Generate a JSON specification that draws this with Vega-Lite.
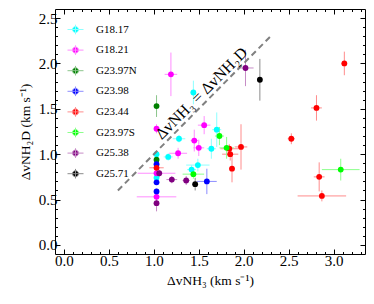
{
  "$schema": "https://vega.github.io/schema/vega-lite/v6.json",
  "width": 310,
  "height": 245,
  "padding": {"top": 8, "left": 18, "right": 2, "bottom": 5},
  "config": {
    "font": "Liberation Serif",
    "view": {"stroke": "black", "strokeWidth": 1},
    "axis": {
      "grid": false,
      "domain": false,
      "tickColor": "black",
      "tickWidth": 1,
      "labelColor": "black",
      "titleColor": "black",
      "labelFont": "Liberation Serif",
      "titleFont": "Liberation Serif",
      "labelFontSize": 15,
      "titleFontSize": 13.5,
      "titleFontWeight": "normal",
      "labelOverlap": false,
      "labelFlush": false
    }
  },
  "datasets": {
    "pts": [
      {"source": "G18.17", "x": 1.44, "y": 1.68, "xe": 0.03, "ye": 0.13},
      {"source": "G18.17", "x": 1.28, "y": 1.17, "xe": 0.07, "ye": 0.04},
      {"source": "G18.17", "x": 1.70, "y": 1.27, "xe": 0.05, "ye": 0.19},
      {"source": "G18.17", "x": 1.64, "y": 1.06, "xe": 0.05, "ye": 0.11},
      {"source": "G18.17", "x": 1.16, "y": 0.97, "xe": 0.05, "ye": 0.04},
      {"source": "G18.17", "x": 1.03, "y": 1.00, "xe": 0.03, "ye": 0.03},
      {"source": "G18.17", "x": 1.03, "y": 0.74, "xe": 0.03, "ye": 0.03},
      {"source": "G18.17", "x": 1.49, "y": 0.88, "xe": 0.13, "ye": 0.07},
      {"source": "G18.17", "x": 1.42, "y": 0.83, "xe": 0.05, "ye": 0.05},
      {"source": "G18.21", "x": 1.19, "y": 1.88, "xe": 0.07, "ye": 0.24},
      {"source": "G18.21", "x": 1.03, "y": 1.28, "xe": 0.03, "ye": 0.05},
      {"source": "G18.21", "x": 1.56, "y": 1.32, "xe": 0.07, "ye": 0.10},
      {"source": "G18.21", "x": 1.45, "y": 1.15, "xe": 0.04, "ye": 0.12},
      {"source": "G18.21", "x": 1.50, "y": 1.07, "xe": 0.06, "ye": 0.09},
      {"source": "G18.21", "x": 1.27, "y": 1.01, "xe": 0.10, "ye": 0.06},
      {"source": "G18.21", "x": 1.03, "y": 0.79, "xe": 0.21, "ye": 0.04},
      {"source": "G18.21", "x": 1.03, "y": 0.53, "xe": 0.22, "ye": 0.05},
      {"source": "G23.97N", "x": 1.03, "y": 1.53, "xe": 0.02, "ye": 0.12},
      {"source": "G23.97N", "x": 1.03, "y": 0.94, "xe": 0.02, "ye": 0.03},
      {"source": "G23.98", "x": 1.03, "y": 0.89, "xe": 0.02, "ye": 0.03},
      {"source": "G23.98", "x": 1.03, "y": 0.69, "xe": 0.02, "ye": 0.03},
      {"source": "G23.98", "x": 1.03, "y": 0.59, "xe": 0.02, "ye": 0.03},
      {"source": "G23.98", "x": 1.59, "y": 0.70, "xe": 0.11, "ye": 0.14},
      {"source": "G23.44", "x": 1.03, "y": 0.85, "xe": 0.08, "ye": 0.03},
      {"source": "G23.44", "x": 1.84, "y": 1.06, "xe": 0.10, "ye": 0.05},
      {"source": "G23.44", "x": 1.97, "y": 1.08, "xe": 0.07, "ye": 0.25},
      {"source": "G23.44", "x": 1.85, "y": 1.00, "xe": 0.09, "ye": 0.07},
      {"source": "G23.44", "x": 1.87, "y": 0.84, "xe": 0.03, "ye": 0.15},
      {"source": "G23.44", "x": 2.53, "y": 1.17, "xe": 0.04, "ye": 0.06},
      {"source": "G23.44", "x": 2.81, "y": 1.51, "xe": 0.06, "ye": 0.14},
      {"source": "G23.44", "x": 3.12, "y": 2.00, "xe": 0.03, "ye": 0.13},
      {"source": "G23.44", "x": 2.84, "y": 0.75, "xe": 0.06, "ye": 0.16},
      {"source": "G23.44", "x": 2.87, "y": 0.54, "xe": 0.27, "ye": 0.06},
      {"source": "G23.97S", "x": 1.73, "y": 1.20, "xe": 0.05, "ye": 0.10},
      {"source": "G23.97S", "x": 1.81, "y": 1.07, "xe": 0.08, "ye": 0.12},
      {"source": "G23.97S", "x": 1.44, "y": 0.78, "xe": 0.12, "ye": 0.05},
      {"source": "G23.97S", "x": 3.08, "y": 0.83, "xe": 0.21, "ye": 0.12},
      {"source": "G25.38", "x": 2.02, "y": 1.95, "xe": 0.09, "ye": 0.20},
      {"source": "G25.38", "x": 1.06, "y": 0.79, "xe": 0.03, "ye": 0.04},
      {"source": "G25.38", "x": 1.20, "y": 0.72, "xe": 0.06, "ye": 0.04},
      {"source": "G25.38", "x": 1.36, "y": 0.71, "xe": 0.04, "ye": 0.05},
      {"source": "G25.38", "x": 1.03, "y": 0.46, "xe": 0.02, "ye": 0.09},
      {"source": "G25.71", "x": 2.18, "y": 1.82, "xe": 0.02, "ye": 0.23},
      {"source": "G25.71", "x": 1.46, "y": 0.67, "xe": 0.03, "ye": 0.07}
    ],
    "diag": [{"x": 0.6, "y": 0.6}, {"x": 2.3, "y": 2.3}],
    "lbl": [{"x": 1.53, "y": 1.67, "t": "ΔvNH₃ = ΔvNH₂D"}]
  },
  "resolve": {"axis": {"x": "independent", "y": "independent"}},
  "layer": [
    {
      "data": {"name": "pts"},
      "mark": {"type": "errorbar", "thickness": 1},
      "encoding": {
        "x": {"field": "x", "type": "quantitative", "scale": {"domain": [-0.1, 3.35], "nice": false, "zero": false}, "axis": null},
        "xError": {"field": "xe"},
        "y": {"field": "y", "type": "quantitative", "scale": {"domain": [-0.1, 2.6], "nice": false, "zero": false}, "axis": null},
        "stroke": {"field": "source", "type": "nominal",
          "scale": {
            "domain": ["G18.17", "G18.21", "G23.97N", "G23.98", "G23.44", "G23.97S", "G25.38", "G25.71"],
            "range": ["#8cffff", "#ff8cff", "#8cc68c", "#8c8cff", "#ff8c8c", "#8cff8c", "#c68cc6", "#8c8c8c"]
          }}
      }
    },
    {
      "data": {"name": "pts"},
      "mark": {"type": "errorbar", "thickness": 1},
      "encoding": {
        "y": {"field": "y", "type": "quantitative", "axis": null},
        "yError": {"field": "ye"},
        "x": {"field": "x", "type": "quantitative", "axis": null},
        "stroke": {"field": "source", "type": "nominal"}
      }
    },
    {
      "data": {"name": "pts"},
      "mark": {"type": "point", "filled": true, "opacity": 1, "size": 34},
      "encoding": {
        "x": {
          "field": "x", "type": "quantitative",
          "axis": {
            "orient": "bottom",
            "title": "ΔvNH₃ (km s⁻¹)",
            "values": [0,0.1,0.2,0.3,0.4,0.5,0.6,0.7,0.8,0.9,1,1.1,1.2,1.3,1.4,1.5,1.6,1.7,1.8,1.9,2,2.1,2.2,2.3,2.4,2.5,2.6,2.7,2.8,2.9,3,3.1,3.2,3.3],
            "labelExpr": "abs(datum.value*2 - round(datum.value*2)) < 0.001 ? format(datum.value, '.1f') : ''",
            "tickSize": {"condition": {"test": "abs(datum.value*2 - round(datum.value*2)) < 0.001", "value": -5}, "value": -2.5},
            "labelPadding": 4,
            "titlePadding": 3
          }
        },
        "y": {
          "field": "y", "type": "quantitative",
          "axis": {
            "orient": "left",
            "title": "ΔvNH₂D (km s⁻¹)",
            "values": [0,0.1,0.2,0.3,0.4,0.5,0.6,0.7,0.8,0.9,1,1.1,1.2,1.3,1.4,1.5,1.6,1.7,1.8,1.9,2,2.1,2.2,2.3,2.4,2.5],
            "labelExpr": "abs(datum.value*2 - round(datum.value*2)) < 0.001 ? format(datum.value, '.1f') : ''",
            "tickSize": {"condition": {"test": "abs(datum.value*2 - round(datum.value*2)) < 0.001", "value": -5}, "value": -2.5},
            "labelPadding": 3,
            "titlePadding": 6
          }
        },
        "color": {
          "field": "source", "type": "nominal",
          "scale": {
            "domain": ["G18.17", "G18.21", "G23.97N", "G23.98", "G23.44", "G23.97S", "G25.38", "G25.71"],
            "range": ["#00ffff", "#ff00ff", "#008000", "#0000ff", "#ff0000", "#00ff00", "#800080", "#000000"]
          },
          "legend": {
            "title": null,
            "orient": "top-left",
            "offset": 12,
            "padding": 0,
            "rowPadding": 4.6,
            "symbolType": "M-1,0H1M0,-0.6V0.6M-0.38,0A0.38,0.38 0 1,0 0.38,0A0.38,0.38 0 1,0 -0.38,0Z",
            "symbolSize": 256,
            "symbolStrokeWidth": 1,
            "symbolOpacity": 1,
            "labelFont": "Liberation Serif",
            "labelFontSize": 11,
            "labelColor": "black",
            "labelOffset": 12
          }
        }
      }
    },
    {
      "data": {"name": "diag"},
      "mark": {"type": "line", "color": "gray", "strokeDash": [6, 4], "strokeWidth": 2},
      "encoding": {
        "x": {
          "field": "x", "type": "quantitative",
          "axis": {
            "orient": "top", "title": null, "labels": false,
            "values": [0,0.1,0.2,0.3,0.4,0.5,0.6,0.7,0.8,0.9,1,1.1,1.2,1.3,1.4,1.5,1.6,1.7,1.8,1.9,2,2.1,2.2,2.3,2.4,2.5,2.6,2.7,2.8,2.9,3,3.1,3.2,3.3],
            "tickSize": {"condition": {"test": "abs(datum.value*2 - round(datum.value*2)) < 0.001", "value": -5}, "value": -2.5}
          }
        },
        "y": {
          "field": "y", "type": "quantitative",
          "axis": {
            "orient": "right", "title": null, "labels": false,
            "values": [0,0.1,0.2,0.3,0.4,0.5,0.6,0.7,0.8,0.9,1,1.1,1.2,1.3,1.4,1.5,1.6,1.7,1.8,1.9,2,2.1,2.2,2.3,2.4,2.5],
            "tickSize": {"condition": {"test": "abs(datum.value*2 - round(datum.value*2)) < 0.001", "value": -5}, "value": -2.5}
          }
        }
      }
    },
    {
      "data": {"name": "lbl"},
      "mark": {"type": "text", "angle": -45, "fontSize": 16, "font": "Liberation Serif", "align": "center", "baseline": "middle", "color": "black"},
      "encoding": {
        "x": {"field": "x", "type": "quantitative", "axis": null},
        "y": {"field": "y", "type": "quantitative", "axis": null},
        "text": {"field": "t"}
      }
    }
  ]
}
